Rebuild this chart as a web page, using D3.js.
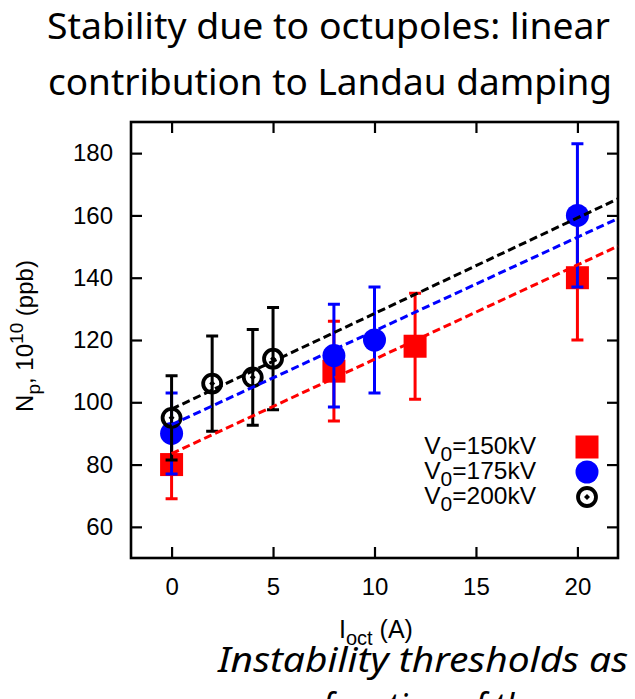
<!DOCTYPE html>
<html>

<head>
    <meta charset="utf-8">
    <style>
        body { margin: 0; background: #fff; }
        svg { display: block; }
    </style>
</head>

<body>
    <div class="graph"></div>

    <script src="https://cdn.jsdelivr.net/npm/d3@7"></script>
    <script>
        var current150 = [0, 8, 12, 20],
            np150 = [80, 110, 118, 140],
            err150 = [11, 16, 17, 20]

        var current175 = [0, 8, 10, 20],
            np175 = [90, 115, 120, 160],
            err175 = [13, 16.5, 17, 23]

        var current200 = [0, 2, 4, 5],
            np200 = [95, 106, 108, 114],
            err200 = [13.5, 15.3, 15.4, 16.4]

        // linear fits: Np = a + b * Ioct
        var fitIntercept = [83.5, 92.8, 97.8],
            fitSlope = [3.03, 3.01, 3.07]

        var legendLabels = ['150kV', '175kV', '200kV']
        var xTicks = [0, 5, 10, 15, 20],
            yTicks = [60, 80, 100, 120, 140, 160, 180]

        var width = 635,
            height = 699

        var x = d3.scaleLinear().domain([-2, 22]).range([131, 618])
        var y = d3.scaleLinear().domain([50, 190]).range([558, 122])

        var svg = d3.select('.graph').append('svg')
            .attr('width', width)
            .attr('height', height)

        var tickFont = 'Liberation Sans, Arial, sans-serif'

        // title
        var title = svg.append('g')
            .attr('font-family', 'Noto Sans, sans-serif')
            .attr('font-size', 36)
            .attr('fill', '#000')
        title.append('text').attr('x', 47).attr('y', 39)
            .attr('textLength', 563).attr('lengthAdjust', 'spacingAndGlyphs')
            .text('Stability due to octupoles: linear')
        title.append('text').attr('x', 48).attr('y', 95)
            .attr('textLength', 564).attr('lengthAdjust', 'spacingAndGlyphs')
            .text('contribution to Landau damping')

        // axes: inward ticks on every side
        var tickLen = 11
        svg.append('g')
            .attr('transform', 'translate(0,' + y.range()[0] + ')')
            .call(d3.axisBottom(x).tickValues(xTicks).tickSizeInner(-tickLen).tickSizeOuter(0).tickPadding(20))
        svg.append('g')
            .attr('transform', 'translate(0,' + y.range()[1] + ')')
            .call(d3.axisTop(x).tickValues(xTicks).tickSizeInner(-tickLen).tickSizeOuter(0).tickFormat(''))
        svg.append('g')
            .attr('transform', 'translate(' + x.range()[0] + ',0)')
            .call(d3.axisLeft(y).tickValues(yTicks).tickSizeInner(-tickLen).tickSizeOuter(0).tickPadding(18))
        svg.append('g')
            .attr('transform', 'translate(' + x.range()[1] + ',0)')
            .call(d3.axisRight(y).tickValues(yTicks).tickSizeInner(-tickLen).tickSizeOuter(0).tickFormat(''))

        svg.selectAll('.domain').remove()
        svg.selectAll('.tick line').attr('stroke', '#000').attr('stroke-width', 2.2)
        svg.selectAll('.tick text')
            .attr('font-family', tickFont)
            .attr('font-size', 24)
            .attr('fill', '#000')

        svg.append('rect')
            .attr('x', x.range()[0]).attr('y', y.range()[1])
            .attr('width', x.range()[1] - x.range()[0])
            .attr('height', y.range()[0] - y.range()[1])
            .attr('fill', 'none')
            .attr('stroke', '#000')
            .attr('stroke-width', 2.6)

        // axis labels
        var xl = svg.append('text')
            .attr('x', 376).attr('y', 638)
            .attr('text-anchor', 'middle')
            .attr('font-family', tickFont).attr('font-size', 25)
        xl.append('tspan').text('I')
        xl.append('tspan').attr('dy', 7).attr('font-size', 20).text('oct')
        xl.append('tspan').attr('dy', -7).text(' (A)')

        var yl = svg.append('text')
            .attr('transform', 'translate(33,336) rotate(-90)')
            .attr('text-anchor', 'middle')
            .attr('font-family', tickFont).attr('font-size', 24)
        yl.append('tspan').text('N')
        yl.append('tspan').attr('dy', 7).attr('font-size', 19).text('p')
        yl.append('tspan').attr('dy', -7).text(', 10')
        yl.append('tspan').attr('dy', -10).attr('font-size', 19).text('10')
        yl.append('tspan').attr('dy', 10).text(' (ppb)')

        var plot = svg.append('g')

        var series = [
            { xs: current150, ys: np150, es: err150, color: '#ff0000', kind: 'square' },
            { xs: current175, ys: np175, es: err175, color: '#0000ff', kind: 'disc' },
            { xs: current200, ys: np200, es: err200, color: '#000000', kind: 'ring' }
        ]

        function drawMarker(g, kind, color, cx, cy) {
            if (kind === 'square') {
                g.append('rect')
                    .attr('x', cx - 11.5).attr('y', cy - 11.5)
                    .attr('width', 23).attr('height', 23)
                    .attr('fill', color)
            } else if (kind === 'disc') {
                g.append('circle').attr('cx', cx).attr('cy', cy).attr('r', 11.5).attr('fill', color)
            } else {
                g.append('circle').attr('cx', cx).attr('cy', cy).attr('r', 9)
                    .attr('fill', 'none').attr('stroke', color).attr('stroke-width', 3.8)
                g.append('path')
                    .attr('d', 'M' + cx + ',' + (cy - 3) + 'L' + (cx + 3) + ',' + cy + 'L' + cx + ',' + (cy + 3) + 'L' + (cx - 3) + ',' + cy + 'Z')
                    .attr('fill', color)
            }
        }

        series.forEach(function (s) {
            var g = plot.append('g')
            s.xs.forEach(function (xv, i) {
                drawMarker(g, s.kind, s.color, x(xv), y(s.ys[i]))
            })
            s.xs.forEach(function (xv, i) {
                var lo = y(s.ys[i] - s.es[i]),
                    hi = y(s.ys[i] + s.es[i]),
                    cx = x(xv)
                g.append('path')
                    .attr('d', 'M' + cx + ',' + lo + 'V' + hi +
                        'M' + (cx - 6) + ',' + lo + 'H' + (cx + 6) +
                        'M' + (cx - 6) + ',' + hi + 'H' + (cx + 6))
                    .attr('stroke', s.color)
                    .attr('stroke-width', 3)
                    .attr('fill', 'none')
            })
        })

        // fit lines from Ioct = 0 to the right edge
        var fitLine = d3.line()
            .x(function (d) { return x(d[0]) })
            .y(function (d) { return y(d[1]) })

        fitIntercept.forEach(function (a, i) {
            var b = fitSlope[i],
                xEnd = x.domain()[1]
            plot.append('path')
                .datum([[0, a], [xEnd, a + b * xEnd]])
                .attr('d', fitLine)
                .attr('stroke', series[i].color)
                .attr('stroke-width', 3)
                .attr('stroke-dasharray', '8,4')
                .attr('fill', 'none')
        })

        // legend
        var legend = svg.append('g')
            .attr('font-family', tickFont)
            .attr('font-size', 24.5)
        legendLabels.forEach(function (lab, i) {
            var by = 454 + i * 25
            var t = legend.append('text')
                .attr('x', 536).attr('y', by)
                .attr('text-anchor', 'end')
            t.append('tspan').text('V')
            t.append('tspan').attr('dy', 7).attr('font-size', 21).text('0')
            t.append('tspan').attr('dy', -7).text('=' + lab)
            drawMarker(legend, series[i].kind, series[i].color, 587, by - 7)
        })

        // caption under the chart, cut by the frame
        var caption = svg.append('g')
            .attr('font-family', 'Noto Sans, sans-serif')
            .attr('font-style', 'italic')
            .attr('font-size', 34)
        caption.append('text').attr('x', 218).attr('y', 672)
            .attr('textLength', 410).attr('lengthAdjust', 'spacingAndGlyphs')
            .text('Instability thresholds as')
        caption.append('text').attr('x', 322).attr('y', 718)
            .text('function of the')
    </script>
</body>

</html>
